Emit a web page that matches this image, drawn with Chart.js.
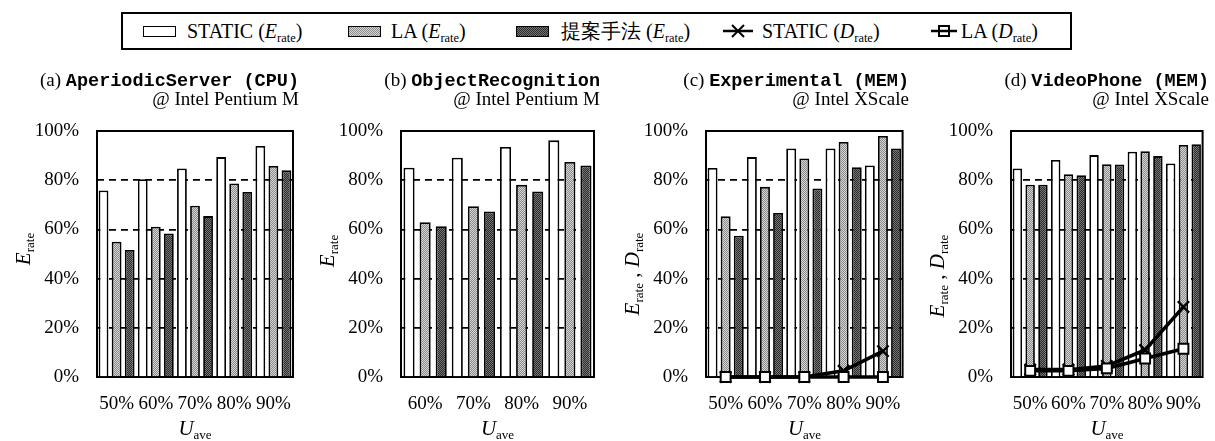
<!DOCTYPE html>
<html>
<head>
<meta charset="utf-8">
<script src="https://cdn.jsdelivr.net/npm/chart.js@4.4.0/dist/chart.umd.min.js"></script>
<style>
body { margin: 0; background: #fff; width: 1215px; height: 441px; position: relative; overflow: hidden;
       font-family: "Liberation Serif", "DejaVu Serif", serif; color: #000; }
canvas { position: absolute; }
.abs { position: absolute; white-space: nowrap; }
#legend { position: absolute; left: 121px; top: 12px; width: 951px; height: 38px; border: 2px solid #000; box-sizing: border-box; }
.lg { position: absolute; top: 0; height: 34px; line-height: 34px; font-size: 20px; white-space: nowrap; }
.sw { position: absolute; top: 12px; width: 33px; height: 11px; border: 1.5px solid #000; box-sizing: border-box; }
.mk { position: absolute; top: 9px; }
.i { font-style: italic; }
.s { font-style: normal; font-size: 0.62em; position: relative; top: 0.32em; }
.ttl { font-size: 19px; line-height: 19px; text-align: right; }
.tt { font-family: "Liberation Mono", "DejaVu Sans Mono", monospace; font-weight: bold; font-size: 18.5px; }
.ylab { font-size: 21px; width: 200px; height: 26px; line-height: 26px; text-align: center; transform: rotate(-90deg); }
.xlab { font-size: 21px; width: 100px; height: 26px; line-height: 26px; text-align: center; }
</style>
</head>
<body>
<div id="legend"></div>
<script>
// categories
const catsA = ['50%', '60%', '70%', '80%', '90%'];
const catsB = ['60%', '70%', '80%', '90%'];
const catsC = ['50%', '60%', '70%', '80%', '90%'];
const catsD = ['50%', '60%', '70%', '80%', '90%'];

// (a) AperiodicServer
const staticA = [75.8, 80.4, 84.8, 89.4, 93.9];
const laA = [55.0, 61.1, 69.6, 78.7, 85.8];
const propA = [51.6, 58.3, 65.4, 75.2, 84.0];
// (b) ObjectRecognition
const staticB = [85.1, 89.1, 93.5, 96.2];
const laB = [62.9, 69.4, 78.1, 87.4];
const propB = [61.3, 67.3, 75.4, 86.0];
// (c) Experimental
const staticC = [85.0, 89.4, 92.9, 92.9, 86.0];
const laC = [65.3, 77.3, 88.8, 95.5, 98.0];
const propC = [57.4, 66.7, 76.6, 85.3, 92.9];
const staticDrateC = [0, 0, 0, 2.5, 10.5];
const laDrateC = [0, 0, 0, 0, 0];
// (d) VideoPhone
const staticD = [84.8, 88.2, 90.2, 91.6, 86.8];
const laD = [78.2, 82.4, 86.5, 91.8, 94.3];
const propD = [78.2, 82.0, 86.4, 89.8, 94.6];
const staticDrateD = [3, 3, 4.5, 11, 28.5];
const laDrateD = [2.5, 2.5, 3.5, 7.5, 11.5];

const yTicks = [0, 20, 40, 60, 80, 100];

// stipple fills like the scanned print
function stipple(c1, c2) {
    const p = document.createElement('canvas');
    p.width = 2; p.height = 2;
    const g = p.getContext('2d');
    g.fillStyle = c1; g.fillRect(0, 0, 2, 2);
    g.fillStyle = c2; g.fillRect(0, 0, 1, 1); g.fillRect(1, 1, 1, 1);
    return g.createPattern(p, 'repeat');
}
const lightFill = stipple('#d6d6d6', '#8a8a8a');
const darkFill = stipple('#767676', '#2a2a2a');

// legend
const legend = document.getElementById('legend');
legend.innerHTML = `
  <div class="sw" style="left:20px;background:#fff"></div>
  <div class="lg" style="left:64px">STATIC (<span class="i">E</span><span class="s">rate</span>)</div>
  <div class="sw" style="left:225px;background:repeating-conic-gradient(#d6d6d6 0 25%,#8a8a8a 0 50%) 0 0/2px 2px"></div>
  <div class="lg" style="left:268px">LA (<span class="i">E</span><span class="s">rate</span>)</div>
  <div class="sw" style="left:393px;background:repeating-conic-gradient(#767676 0 25%,#2a2a2a 0 50%) 0 0/2px 2px"></div>
  <div class="lg" style="left:438px">提案手法 (<span class="i">E</span><span class="s">rate</span>)</div>
  <svg class="mk" style="left:600px" width="30" height="16"><line x1="0" y1="8" x2="30" y2="8" stroke="#000" stroke-width="2.5"/><path d="M9 2 L21 14 M21 2 L9 14" stroke="#000" stroke-width="2"/></svg>
  <div class="lg" style="left:639px">STATIC (<span class="i">D</span><span class="s">rate</span>)</div>
  <svg class="mk" style="left:808px" width="26" height="16"><line x1="0" y1="8" x2="26" y2="8" stroke="#000" stroke-width="2.5"/><rect x="8" y="3" width="10" height="10" fill="none" stroke="#000" stroke-width="2"/></svg>
  <div class="lg" style="left:838px">LA (<span class="i">D</span><span class="s">rate</span>)</div>`;

const tickFont = { family: '"Liberation Serif", serif', size: 19 };

const boxPlugin = {
    id: 'box',
    beforeDatasetsDraw(chart) {
        const { ctx, chartArea: a } = chart;
        ctx.save();
        ctx.strokeStyle = '#000';
        ctx.lineWidth = 2;
        ctx.strokeRect(a.left, a.top, a.right - a.left, a.bottom - a.top);
        ctx.restore();
    }
};

const PLOT_TOP = 131, PLOT_BOTTOM = 377, YW = 90, PADR = 10;

const panels = [
    { left: 97, right: 293, labels: catsA, bars: [staticA, laA, propA], lines: null, barPct: 0.75,
      t1: '(a) <span class="tt">AperiodicServer (CPU)</span>', t2: '@ Intel Pentium M', ylab: '<span class="i">E</span><span class="s">rate</span>', ylabY: 249 },
    { left: 401, right: 594, labels: catsB, bars: [staticB, laB, propB], lines: null, barPct: 0.69,
      t1: '(b) <span class="tt">ObjectRecognition</span>', t2: '@ Intel Pentium M', ylab: '<span class="i">E</span><span class="s">rate</span>', ylabY: 251 },
    { left: 706, right: 903, labels: catsC, bars: [staticC, laC, propC], lines: [staticDrateC, laDrateC], barPct: 0.76,
      t1: '(c) <span class="tt">Experimental (MEM)</span>', t2: '@ Intel XScale', ylab: '<span class="i">E</span><span class="s">rate</span> , <span class="i">D</span><span class="s">rate</span>', ylabY: 274 },
    { left: 1011, right: 1203, labels: catsD, bars: [staticD, laD, propD], lines: [staticDrateD, laDrateD], barPct: 0.74,
      t1: '(d) <span class="tt">VideoPhone (MEM)</span>', t2: '@ Intel XScale', ylab: '<span class="i">E</span><span class="s">rate</span> , <span class="i">D</span><span class="s">rate</span>', ylabY: 276 }
];

function addText(cls, html, css) {
    const d = document.createElement('div');
    d.className = 'abs ' + cls;
    d.innerHTML = html;
    Object.assign(d.style, css);
    document.body.appendChild(d);
}

panels.forEach(p => {
    const w = p.right - p.left;
    const cv = document.createElement('canvas');
    cv.width = YW + w + PADR;
    cv.height = 441;
    cv.style.left = (p.left - YW) + 'px';
    cv.style.top = '0px';
    document.body.appendChild(cv);

    const fills = ['#ffffff', lightFill, darkFill];
    const datasets = p.bars.map((d, i) => ({
        type: 'bar', data: d, backgroundColor: fills[i], borderColor: '#000', borderWidth: 1.8,
        barPercentage: p.barPct, categoryPercentage: 1, order: 2
    }));
    if (p.lines) {
        datasets.push({
            type: 'line', data: p.lines[0], borderColor: '#000', borderWidth: 3.5, tension: 0,
            pointStyle: 'crossRot', pointRadius: 8, pointBorderWidth: 2.4, pointBorderColor: '#000',
            pointBackgroundColor: '#000', clip: false, order: 1
        });
        datasets.push({
            type: 'line', data: p.lines[1], borderColor: '#000', borderWidth: 3.5, tension: 0,
            pointStyle: 'rect', pointRadius: 7, pointBorderWidth: 2, pointBorderColor: '#000',
            pointBackgroundColor: '#fff', clip: false, order: 0
        });
    }

    new Chart(cv, {
        data: { labels: p.labels, datasets: datasets },
        options: {
            responsive: false,
            animation: false,
            devicePixelRatio: 1,
            layout: { padding: { top: PLOT_TOP, right: PADR, left: 0, bottom: 0 } },
            plugins: { legend: { display: false }, tooltip: { enabled: false } },
            scales: {
                x: {
                    grid: { display: false },
                    border: { display: false },
                    ticks: { font: tickFont, color: '#000', padding: 8, maxRotation: 0, minRotation: 0, autoSkip: false },
                    afterFit: s => { s.height = 441 - PLOT_BOTTOM; }
                },
                y: {
                    min: 0, max: 100,
                    afterBuildTicks: s => { s.ticks = yTicks.map(v => ({ value: v })); },
                    ticks: { font: tickFont, color: '#000', padding: 18, callback: v => v + '%' },
                    grid: {
                        drawTicks: false, lineWidth: 1.7,
                        color: c => (c.tick && c.tick.value > 0 && c.tick.value < 100) ? '#000' : 'rgba(0,0,0,0)'
                    },
                    border: { display: false, dash: [7, 5] },
                    afterFit: s => { s.width = YW; }
                }
            }
        },
        plugins: [boxPlugin]
    });

    const rightGap = (1215 - (p.right + 6)) + 'px';
    addText('ttl', p.t1, { right: rightGap, top: '70px' });
    addText('ttl', p.t2, { right: rightGap, top: '89px' });
    addText('ylab', p.ylab, { left: (p.left - 74 - 100) + 'px', top: (p.ylabY - 13) + 'px' });
    addText('xlab', '<span class="i">U</span><span class="s">ave</span>', { left: ((p.left + p.right) / 2 - 50) + 'px', top: '415px' });
});
</script>
</body>
</html>
